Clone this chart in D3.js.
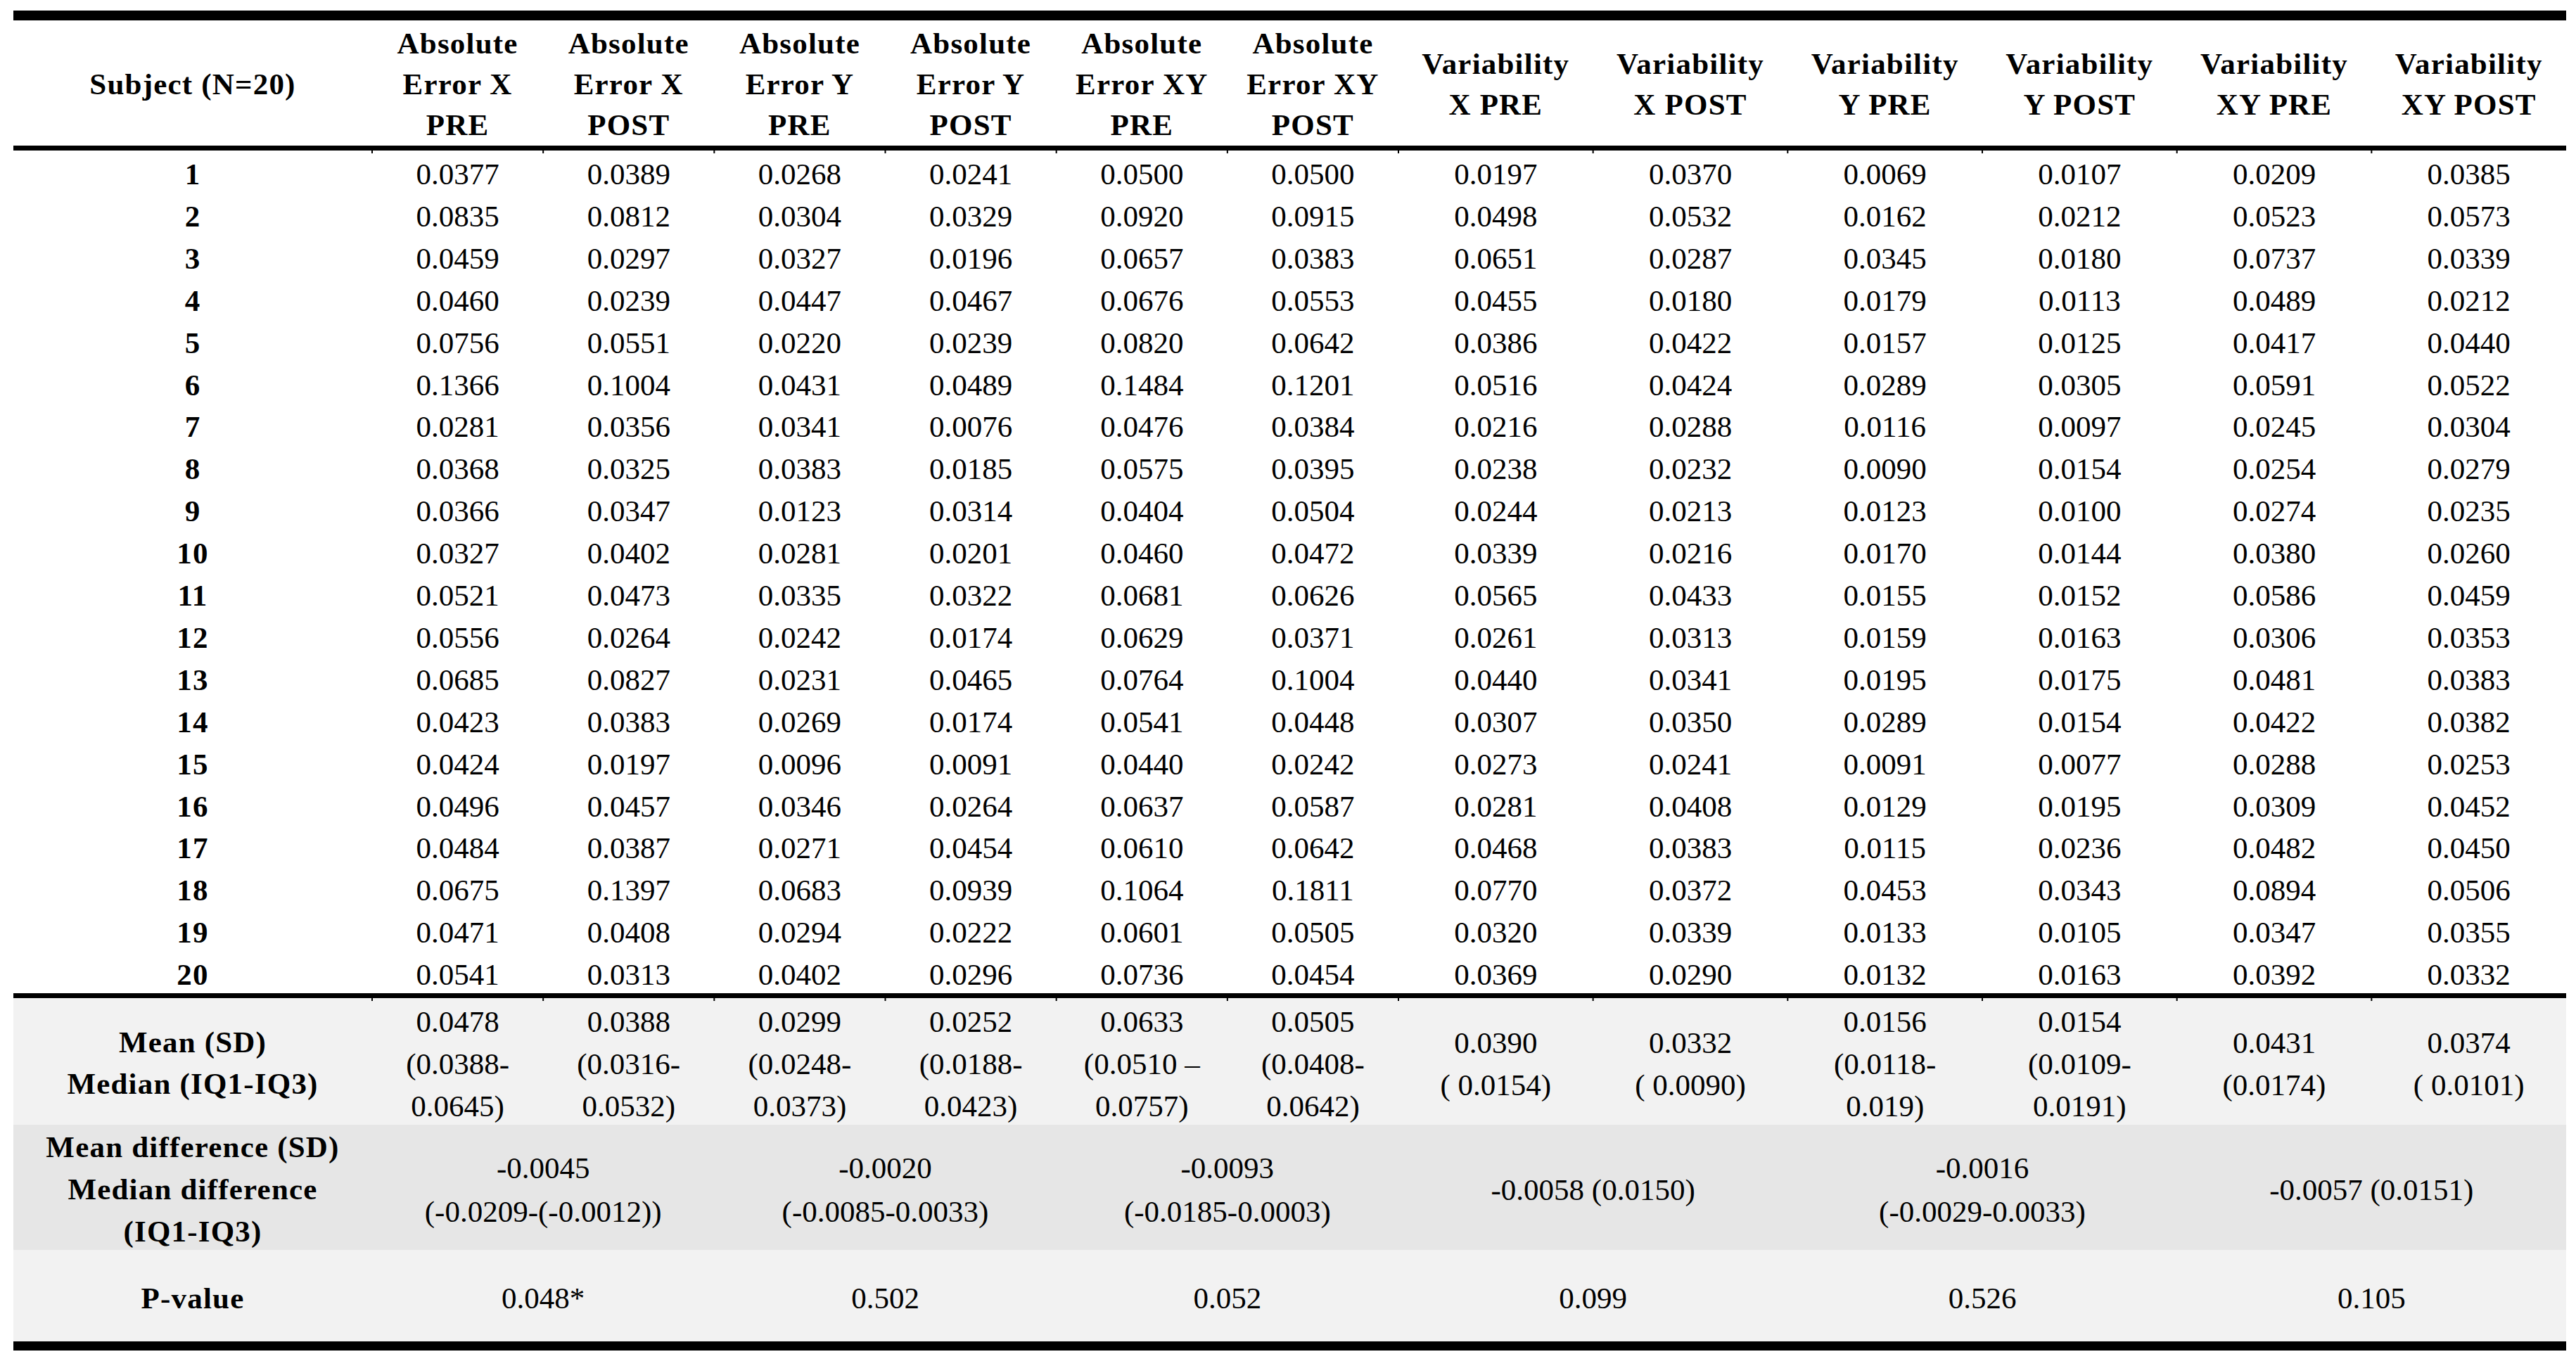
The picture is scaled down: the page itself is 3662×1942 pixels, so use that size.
<!DOCTYPE html>
<html>
<head>
<meta charset="utf-8">
<script src="https://cdn.jsdelivr.net/npm/d3@7"></script>
<style>
  body { margin: 0; background: #fff; }
  svg text { font-family: "Liberation Serif", "Times New Roman", serif; fill: #000; }
</style>
</head>
<body>
<svg id="chart" width="3662" height="1942"></svg>
<script>
// table content
var subjects = ["1","2","3","4","5","6","7","8","9","10","11","12","13","14","15","16","17","18","19","20"];

var headers = [
    ["Absolute", "Error X", "PRE"], ["Absolute", "Error X", "POST"],
    ["Absolute", "Error Y", "PRE"], ["Absolute", "Error Y", "POST"],
    ["Absolute", "Error XY", "PRE"], ["Absolute", "Error XY", "POST"],
    ["Variability", "X PRE"], ["Variability", "X POST"],
    ["Variability", "Y PRE"], ["Variability", "Y POST"],
    ["Variability", "XY PRE"], ["Variability", "XY POST"]
];

var absErrXPre   = ["0.0377","0.0835","0.0459","0.0460","0.0756","0.1366","0.0281","0.0368","0.0366","0.0327","0.0521","0.0556","0.0685","0.0423","0.0424","0.0496","0.0484","0.0675","0.0471","0.0541"];
var absErrXPost  = ["0.0389","0.0812","0.0297","0.0239","0.0551","0.1004","0.0356","0.0325","0.0347","0.0402","0.0473","0.0264","0.0827","0.0383","0.0197","0.0457","0.0387","0.1397","0.0408","0.0313"];
var absErrYPre   = ["0.0268","0.0304","0.0327","0.0447","0.0220","0.0431","0.0341","0.0383","0.0123","0.0281","0.0335","0.0242","0.0231","0.0269","0.0096","0.0346","0.0271","0.0683","0.0294","0.0402"];
var absErrYPost  = ["0.0241","0.0329","0.0196","0.0467","0.0239","0.0489","0.0076","0.0185","0.0314","0.0201","0.0322","0.0174","0.0465","0.0174","0.0091","0.0264","0.0454","0.0939","0.0222","0.0296"];
var absErrXYPre  = ["0.0500","0.0920","0.0657","0.0676","0.0820","0.1484","0.0476","0.0575","0.0404","0.0460","0.0681","0.0629","0.0764","0.0541","0.0440","0.0637","0.0610","0.1064","0.0601","0.0736"];
var absErrXYPost = ["0.0500","0.0915","0.0383","0.0553","0.0642","0.1201","0.0384","0.0395","0.0504","0.0472","0.0626","0.0371","0.1004","0.0448","0.0242","0.0587","0.0642","0.1811","0.0505","0.0454"];
var varXPre      = ["0.0197","0.0498","0.0651","0.0455","0.0386","0.0516","0.0216","0.0238","0.0244","0.0339","0.0565","0.0261","0.0440","0.0307","0.0273","0.0281","0.0468","0.0770","0.0320","0.0369"];
var varXPost     = ["0.0370","0.0532","0.0287","0.0180","0.0422","0.0424","0.0288","0.0232","0.0213","0.0216","0.0433","0.0313","0.0341","0.0350","0.0241","0.0408","0.0383","0.0372","0.0339","0.0290"];
var varYPre      = ["0.0069","0.0162","0.0345","0.0179","0.0157","0.0289","0.0116","0.0090","0.0123","0.0170","0.0155","0.0159","0.0195","0.0289","0.0091","0.0129","0.0115","0.0453","0.0133","0.0132"];
var varYPost     = ["0.0107","0.0212","0.0180","0.0113","0.0125","0.0305","0.0097","0.0154","0.0100","0.0144","0.0152","0.0163","0.0175","0.0154","0.0077","0.0195","0.0236","0.0343","0.0105","0.0163"];
var varXYPre     = ["0.0209","0.0523","0.0737","0.0489","0.0417","0.0591","0.0245","0.0254","0.0274","0.0380","0.0586","0.0306","0.0481","0.0422","0.0288","0.0309","0.0482","0.0894","0.0347","0.0392"];
var varXYPost    = ["0.0385","0.0573","0.0339","0.0212","0.0440","0.0522","0.0304","0.0279","0.0235","0.0260","0.0459","0.0353","0.0383","0.0382","0.0253","0.0452","0.0450","0.0506","0.0355","0.0332"];

var columns = [absErrXPre, absErrXPost, absErrYPre, absErrYPost, absErrXYPre, absErrXYPost,
               varXPre, varXPost, varYPre, varYPost, varXYPre, varXYPost];

var meanMedian = [
    ["0.0478", "(0.0388-", "0.0645)"], ["0.0388", "(0.0316-", "0.0532)"],
    ["0.0299", "(0.0248-", "0.0373)"], ["0.0252", "(0.0188-", "0.0423)"],
    ["0.0633", "(0.0510 \u2013", "0.0757)"], ["0.0505", "(0.0408-", "0.0642)"],
    ["0.0390", "( 0.0154)"], ["0.0332", "( 0.0090)"],
    ["0.0156", "(0.0118-", "0.019)"], ["0.0154", "(0.0109-", "0.0191)"],
    ["0.0431", "(0.0174)"], ["0.0374", "( 0.0101)"]
];

var differences = [
    ["-0.0045", "(-0.0209-(-0.0012))"],
    ["-0.0020", "(-0.0085-0.0033)"],
    ["-0.0093", "(-0.0185-0.0003)"],
    ["-0.0058 (0.0150)"],
    ["-0.0016", "(-0.0029-0.0033)"],
    ["-0.0057 (0.0151)"]
];

var pValues = ["0.048*", "0.502", "0.052", "0.099", "0.526", "0.105"];

var rowLabels = {
    subject: ["Subject (N=20)"],
    mean: ["Mean (SD)", "Median (IQ1-IQ3)"],
    diff: ["Mean difference (SD)", "Median difference", "(IQ1-IQ3)"],
    p: ["P-value"]
};

// layout
var svg = d3.select("#chart"),
    fontSize = 43,
    left = 19,
    right = 3648,
    subjRight = 529,
    absRight = 1988;

var colIdx = d3.range(columns.length);

// two band scales: absolute error columns are narrower than variability ones
var xAbs = d3.scaleBand().domain(colIdx.slice(0, 6)).range([subjRight, absRight]);
var xVar = d3.scaleBand().domain(colIdx.slice(6)).range([absRight, right]);

function colStart(i) { return i < 6 ? xAbs(i) : xVar(i); }
function colWidth(i) { return i < 6 ? xAbs.bandwidth() : xVar.bandwidth(); }
function colCenter(i) { return colStart(i) + colWidth(i) / 2; }

var y = d3.scaleBand().domain(subjects).range([217.5, 1415.5]);

var sections = {
    head: [29, 207],
    mean: [1419, 1599],
    diff: [1599, 1777],
    p: [1777, 1907]
};
var subjCenter = (left + subjRight) / 2;

// draws lines of text centred on (cx, cy)
function writeLines(lines, cx, cy, lh, bold) {
    var n = lines.length;
    lines.forEach(function(t, k) {
        svg.append("text")
            .attr("x", cx)
            .attr("y", cy + (k - (n - 1) / 2) * lh + fontSize * 0.34)
            .attr("text-anchor", "middle")
            .attr("font-size", fontSize)
            .attr("font-weight", bold ? "bold" : "normal")
            .attr("letter-spacing", bold ? 1.2 : 0)
            .text(t);
    });
}

function mid(s) { return (s[0] + s[1]) / 2; }

// shaded blocks under the table body
svg.append("rect").attr("x", left).attr("y", sections.mean[0])
    .attr("width", right - left).attr("height", sections.mean[1] - sections.mean[0]).attr("fill", "#f2f2f2");
svg.append("rect").attr("x", left).attr("y", sections.diff[0])
    .attr("width", right - left).attr("height", sections.diff[1] - sections.diff[0]).attr("fill", "#e6e6e6");
svg.append("rect").attr("x", left).attr("y", sections.p[0])
    .attr("width", right - left).attr("height", sections.p[1] - sections.p[0]).attr("fill", "#f2f2f2");

// header
writeLines(rowLabels.subject, subjCenter, mid(sections.head) + 1, 58, true);
headers.forEach(function(h, i) {
    writeLines(h, colCenter(i), mid(sections.head) + 1, 58, true);
});

// subject rows
subjects.forEach(function(s) {
    var cy = y(s) + y.bandwidth() / 2;
    writeLines([s], subjCenter, cy, 0, true);
    columns.forEach(function(col, i) {
        writeLines([col[subjects.indexOf(s)]], colCenter(i), cy, 0, false);
    });
});

// mean / median block
writeLines(rowLabels.mean, subjCenter, mid(sections.mean) + 2, 59, true);
meanMedian.forEach(function(lines, i) {
    writeLines(lines, colCenter(i), mid(sections.mean) + 3, 60, false);
});

// differences and p-values span each PRE/POST pair
writeLines(rowLabels.diff, subjCenter, mid(sections.diff) + 2, 60, true);
writeLines(rowLabels.p, subjCenter, mid(sections.p) + 3, 0, true);
differences.forEach(function(lines, j) {
    var a = 2 * j, b = 2 * j + 1;
    var cx = (colStart(a) + colStart(b) + colWidth(b)) / 2;
    writeLines(lines, cx, mid(sections.diff) + 3, 62, false);
    writeLines([pValues[j]], cx, mid(sections.p) + 3, 0, false);
});

// rules
function rule(y0, y1) {
    svg.append("rect").attr("x", left).attr("y", y0)
        .attr("width", right - left).attr("height", y1 - y0).attr("fill", "#000");
}
rule(15, 29);
rule(207, 214);
rule(1412, 1419);
rule(1907, 1920);

// little cell-border stubs hanging under the inner rules
var bounds = [subjRight].concat(colIdx.slice(1).map(colStart));
[214, 1419].forEach(function(yy) {
    svg.selectAll(null).data(bounds).enter().append("rect")
        .attr("x", function(d) { return d - 1; })
        .attr("y", yy)
        .attr("width", 2)
        .attr("height", 4)
        .attr("fill", "#000");
});
</script>
</body>
</html>
